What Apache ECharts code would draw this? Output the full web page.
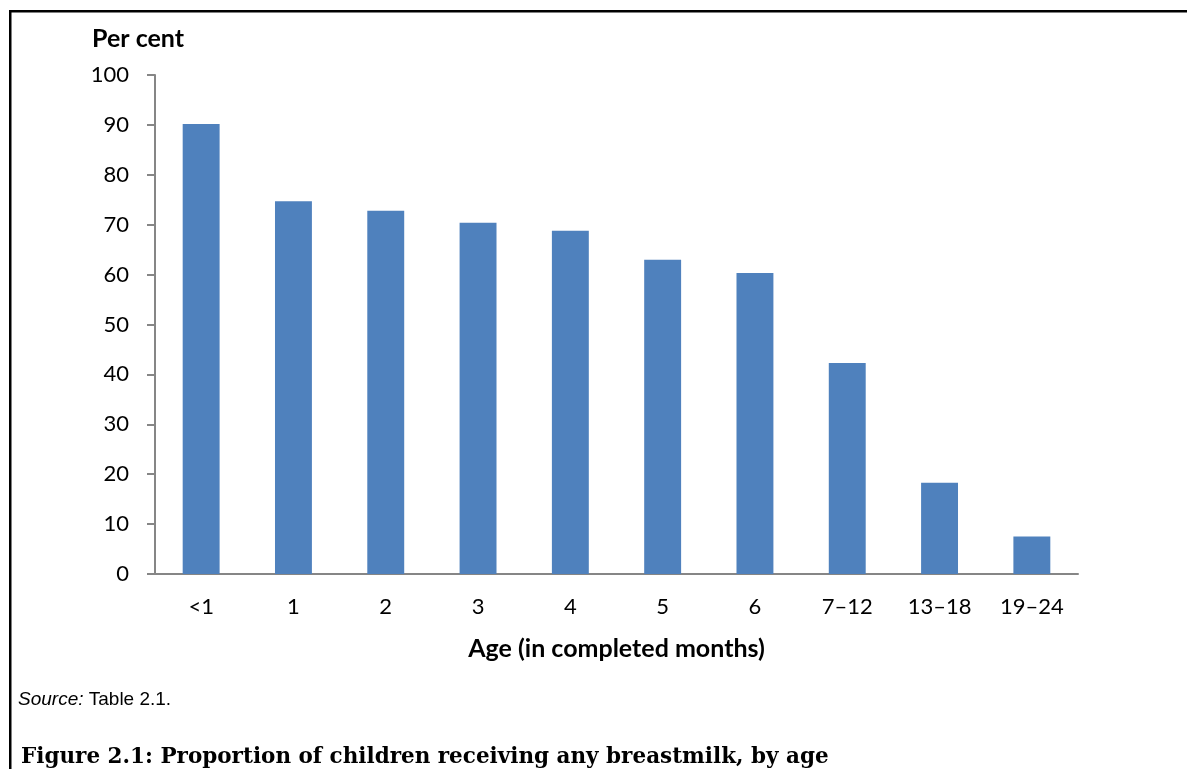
<!DOCTYPE html>
<html>
<head>
<meta charset="utf-8">
<script src="https://cdn.jsdelivr.net/npm/echarts@6/dist/echarts.min.js"></script>
<style>
  html, body { margin: 0; padding: 0; background: #fff; }
  #chart { width: 1187px; height: 769px; }
</style>
</head>
<body>
<div id="chart"></div>
<script>
// Age groups (completed months) and share of children receiving any breastmilk
const ageGroups = ['<1', '1', '2', '3', '4', '5', '6', '7\u201312', '13\u201318', '19\u201324'];
const perCent = [90.2, 74.7, 72.8, 70.4, 68.8, 63.0, 60.3, 42.3, 18.3, 7.5];
const yTicks = { min: 0, max: 100, interval: 10 };

const sansFont = 'Lato, "Open Sans", sans-serif';
const axisGrey = '#868686';

const chart = echarts.init(document.getElementById('chart'), null, { renderer: 'canvas' });
chart.setOption({
  backgroundColor: '#ffffff',
  animation: false,
  grid: { left: 155, right: 109, top: 75, bottom: 195, containLabel: false },
  xAxis: {
    type: 'category',
    data: ageGroups,
    name: 'Age (in completed months)',
    nameLocation: 'middle',
    nameGap: 62,
    nameTextStyle: { fontFamily: sansFont, fontSize: 25, fontWeight: 'bold', color: '#000' },
    axisLine: { lineStyle: { color: axisGrey, width: 2 } },
    axisTick: { show: false },
    axisLabel: { fontFamily: sansFont, fontSize: 22, color: '#000', margin: 22 }
  },
  yAxis: {
    type: 'value',
    min: yTicks.min,
    max: yTicks.max,
    interval: yTicks.interval,
    splitLine: { show: false },
    axisLine: { show: true, lineStyle: { color: axisGrey, width: 2 } },
    axisTick: { show: true, length: 8, lineStyle: { color: axisGrey, width: 2 } },
    axisLabel: { fontFamily: sansFont, fontSize: 22, color: '#000', margin: 26 }
  },
  series: [{
    type: 'bar',
    data: perCent,
    barWidth: '40%',
    itemStyle: { color: '#4F81BD' }
  }],
  graphic: [
    // frame lines along the top and left edges
    { type: 'rect', left: 9, top: 10, shape: { width: 1178, height: 2.5 }, style: { fill: '#000' } },
    { type: 'rect', left: 9, top: 10, shape: { width: 2.5, height: 759 }, style: { fill: '#000' } },
    {
      type: 'text', left: 92, top: 26,
      style: { text: 'Per cent', font: 'bold 25px ' + sansFont, fill: '#000' }
    },
    {
      type: 'text', left: 18, top: 690,
      style: {
        rich: {
          i: { fontFamily: '"Liberation Sans", Arial, sans-serif', fontStyle: 'italic', fontSize: 19, fill: '#000' },
          n: { fontFamily: '"Liberation Sans", Arial, sans-serif', fontSize: 19, fill: '#000' }
        },
        text: '{i|Source:}{n| Table 2.1.}'
      }
    },
    {
      type: 'text', left: 21, top: 746,
      style: { text: 'Figure 2.1: Proportion of children receiving any breastmilk, by age', font: 'bold 21.5px "DejaVu Serif", serif', fill: '#000' }
    }
  ]
});
</script>
</body>
</html>
